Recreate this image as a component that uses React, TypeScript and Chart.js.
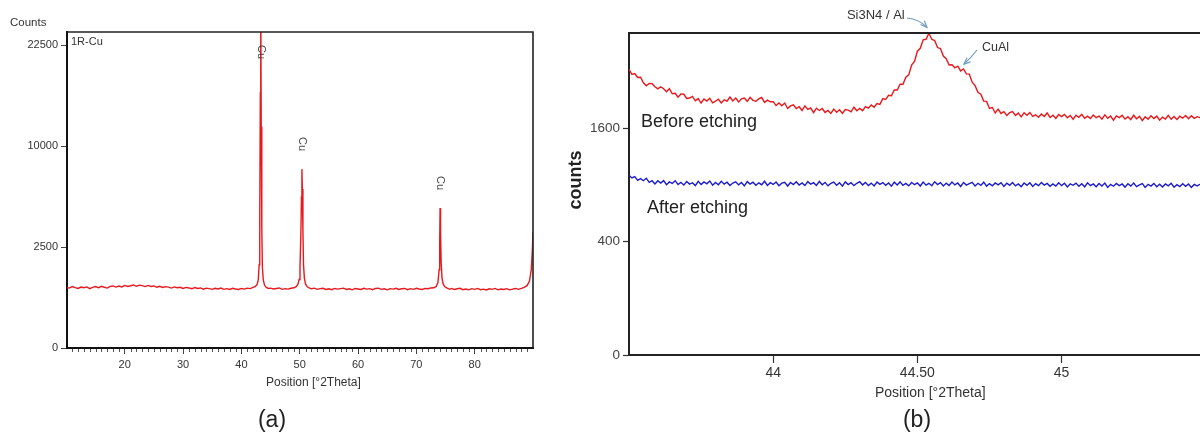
import React, { useEffect, useRef } from 'react';
import { Chart, registerables, LinearScale } from 'chart.js';

Chart.register(...registerables);

// square-root intensity scale (as used by the XRD software)
class SqrtScale extends LinearScale {
  static id = 'sqrt';
  static defaults = LinearScale.defaults;
  getPixelForValue(value: number) {
    const a = Math.sqrt(Math.max(this.min, 0));
    const b = Math.sqrt(Math.max(this.max, 0));
    const v = Math.sqrt(Math.max(value, 0));
    return this.getPixelForDecimal((v - a) / (b - a));
  }
  getValueForPixel(pixel: number) {
    const a = Math.sqrt(Math.max(this.min, 0));
    const b = Math.sqrt(Math.max(this.max, 0));
    const s = a + this.getDecimalForPixel(pixel) * (b - a);
    return s * s;
  }
}
Chart.register(SqrtScale as any);

// ---------- (a) 1R-Cu full scan ----------
const posA = [
  10.0, 10.5, 11.0, 11.5, 12.0, 12.5, 13.0, 13.5, 14.0, 14.5,
  15.0, 15.5, 16.0, 16.5, 17.0, 17.5, 18.0, 18.5, 19.0, 19.5,
  20.0, 20.5, 21.0, 21.5, 22.0, 22.5, 23.0, 23.5, 24.0, 24.5,
  25.0, 25.5, 26.0, 26.5, 27.0, 27.5, 28.0, 28.5, 29.0, 29.5,
  30.0, 30.5, 31.0, 31.5, 32.0, 32.5, 33.0, 33.5, 34.0, 34.5,
  35.0, 35.5, 36.0, 36.5, 37.0, 37.5, 38.0, 38.5, 39.0, 39.5,
  40.0, 40.5, 41.0, 41.5, 42.0,
  42.4, 42.7, 42.9, 43.05, 43.15, 43.25, 43.32, 43.4, 43.5, 43.6, 43.75, 43.95, 44.2, 44.6,
  45.0, 45.5, 46.0, 46.5, 47.0, 47.5, 48.0, 48.5, 49.0,
  49.4, 49.7, 49.9, 50.05, 50.2, 50.3, 50.38, 50.45, 50.55, 50.65, 50.8, 51.0, 51.3, 51.7,
  52.0, 52.5, 53.0, 53.5, 54.0, 54.5, 55.0, 55.5, 56.0, 56.5,
  57.0, 57.5, 58.0, 58.5, 59.0, 59.5, 60.0, 60.5, 61.0, 61.5,
  62.0, 62.5, 63.0, 63.5, 64.0, 64.5, 65.0, 65.5, 66.0, 66.5,
  67.0, 67.5, 68.0, 68.5, 69.0, 69.5, 70.0, 70.5, 71.0, 71.5,
  72.0, 72.5,
  73.0, 73.4, 73.7, 73.9, 74.0, 74.07, 74.15, 74.25, 74.4, 74.6, 74.9, 75.3,
  75.7,
  76.0, 76.5, 77.0, 77.5, 78.0, 78.5, 79.0, 79.5, 80.0, 80.5,
  81.0, 81.5, 82.0, 82.5, 83.0, 83.5, 84.0, 84.5, 85.0, 85.5,
  86.0, 86.5, 87.0, 87.5, 88.0,
  88.5, 89.0, 89.4, 89.7, 89.9, 90.0,
];
const countsA = [
  905, 880, 925, 895, 870, 910, 890, 915, 865, 900,
  925, 890, 935, 905, 880, 930, 945, 910, 940, 915,
  960, 930, 950, 975, 935, 970, 955, 925, 960, 930,
  945, 905, 935, 900, 925, 910, 880, 915, 890, 905,
  870, 900, 885, 860, 895, 870, 885, 850, 880, 865,
  845, 875, 855, 880, 845, 865, 840, 875, 855, 840,
  870, 850, 880, 865, 900,
  930, 990, 1150, 1700, 4000, 16000, 30000, 12000, 3500, 1600, 1150, 980, 910, 870,
  880, 855, 870, 885, 845, 865, 850, 875, 890,
  920, 1000, 1150, 1600, 3200, 5600, 7850, 6200, 3400, 1700, 1200, 1000, 920, 880,
  860, 880, 845, 865, 875, 840, 860, 835, 870, 850,
  865, 880, 840, 860, 830, 870, 855, 840, 875, 850,
  865, 835, 870, 880, 845, 860, 830, 865, 850, 875,
  840, 860, 870, 835, 865, 845, 875, 855, 840, 870,
  860, 885,
  890, 930, 1050, 1500, 2600, 4800, 3300, 1800, 1200, 1000, 920, 880,
  845,
  870, 840, 860, 875, 835, 855, 830, 865, 845, 870,
  835, 850, 825, 860, 845, 870, 830, 855, 840, 865,
  830, 850, 870, 845, 870,
  900, 960, 1100, 1500, 2400, 3300,
];
const xTicksA = [20, 30, 40, 50, 60, 70, 80];
const yTicksA = [0, 2500, 10000, 22500];
const peakPosA = [43.32, 50.38, 74.07];
const peakNamesA = ['Cu', 'Cu', 'Cu'];

// ---------- (b) zoom around 44.5 °2θ, step 0.01 from 43.50 ----------
const startB = 43.5;
const stepB = 0.01;
const beforeB = [
  2540, 2450, 2465, 2395, 2400, 2306, 2255, 2295, 2290, 2238,
  2202, 2238, 2205, 2155, 2205, 2122, 2130, 2067, 2120, 2115,
  2048, 2054, 2080, 2010, 2045, 1975, 2040, 2005, 2050, 1979,
  2003, 2035, 1975, 2025, 2005, 2070, 2008, 2055, 1993, 2042,
  2055, 2002, 2065, 2018, 2002, 2040, 2062, 1985, 2020, 1995,
  1997, 1935, 1975, 1933, 1975, 1890, 1930, 1948, 1890, 1917,
  1860, 1930, 1875, 1898, 1827, 1894, 1860, 1890, 1830, 1860,
  1815, 1881, 1833, 1871, 1815, 1873, 1865, 1840, 1910, 1855,
  1890, 1857, 1920, 1895, 1945, 1910, 1965, 1953, 2045, 2030,
  2098, 2090, 2185, 2185, 2280, 2279, 2400, 2440, 2615, 2680,
  2870, 2925, 3090, 3100, 3220, 3100, 3075, 2940, 2921, 2780,
  2730, 2615, 2620, 2565, 2595, 2510, 2545, 2458, 2455, 2315,
  2257, 2145, 2115, 2005, 2000, 1890, 1905, 1822, 1880, 1815,
  1843, 1785, 1826, 1843, 1785, 1822, 1764, 1826, 1788, 1830,
  1772, 1795, 1758, 1806, 1769, 1822, 1755, 1788, 1741, 1799,
  1767, 1801, 1750, 1785, 1729, 1789, 1758, 1803, 1743, 1773,
  1738, 1792, 1751, 1775, 1729, 1793, 1742, 1776, 1715, 1779,
  1753, 1787, 1731, 1765, 1724, 1788, 1737, 1771, 1710, 1765,
  1729, 1779, 1740, 1775, 1716, 1761, 1732, 1787, 1728, 1768,
  1724, 1774, 1745, 1785, 1736, 1781, 1742, 1767, 1752,
];
const afterB = [
  1005, 975, 990, 948, 968, 945, 972, 927, 945, 910,
  945, 920, 946, 902, 932, 915, 945, 904, 927, 898,
  936, 908, 923, 893, 938, 905, 932, 912, 942, 897,
  926, 901, 938, 908, 928, 893, 920, 933, 900, 925,
  890, 935, 909, 929, 896, 922, 902, 939, 894, 924,
  905, 931, 891, 918, 928, 888, 925, 903, 933, 898,
  921, 893, 935, 907, 924, 894, 937, 902, 927, 890,
  917, 930, 897, 922, 887, 932, 904, 924, 892, 917,
  934, 900, 927, 893, 919, 889, 931, 906, 925, 896,
  921, 886, 929, 900, 932, 895, 915, 890, 925, 902,
  922, 888, 930, 897, 917, 891, 934, 904, 924, 889,
  919, 893, 930, 900, 920, 883, 926, 898, 913, 927,
  889, 917, 895, 929, 887, 914, 891, 921, 901, 924,
  884, 918, 895, 925, 890, 910, 880, 920, 896, 922,
  884, 914, 892, 925, 898, 915, 885, 911, 887, 922,
  892, 917, 879, 911, 896, 919, 885, 912, 880, 922,
  892, 910, 881, 914, 889, 919, 874, 906, 886, 916,
  893, 910, 877, 912, 887, 919, 882, 901, 914, 874,
  906, 888, 916, 881, 907, 877, 910, 890, 917, 875,
  903, 883, 913, 885, 910, 873, 905, 890, 907,
];
const xTicksB = [44, 44.5, 45];
const xTickLabelsB = ['44', '44.50', '45'];
const yTicksB = [0, 400, 1600];
const peakSi3N4B = 44.54;
const peakCuAlB = 44.665;

const FONT = "'Liberation Sans', Arial, Helvetica, sans-serif";
const TEXT = '#333333';
const RED = 'rgb(232, 24, 28)';
const BLUE = 'rgb(28, 28, 205)';

function txt(ctx: CanvasRenderingContext2D, s: string, x: number, y: number, size: number, align: CanvasTextAlign = 'left', weight = 'normal', color = TEXT, rot = 0) {
  ctx.save();
  ctx.font = `${weight} ${size}px ${FONT}`;
  ctx.fillStyle = color;
  ctx.textAlign = align;
  ctx.textBaseline = 'middle';
  ctx.translate(x, y);
  if (rot) ctx.rotate(rot);
  ctx.fillText(s, 0, 0);
  ctx.restore();
}

function arrow(ctx: CanvasRenderingContext2D, x0: number, y0: number, cx: number, cy: number, x1: number, y1: number) {
  ctx.save();
  ctx.strokeStyle = '#6f9bbf';
  ctx.lineWidth = 1.2;
  ctx.beginPath();
  ctx.moveTo(x0, y0);
  ctx.quadraticCurveTo(cx, cy, x1, y1);
  ctx.stroke();
  const ang = Math.atan2(y1 - cy, x1 - cx);
  const L = 7;
  ctx.beginPath();
  ctx.moveTo(x1 - L * Math.cos(ang - 0.4), y1 - L * Math.sin(ang - 0.4));
  ctx.lineTo(x1, y1);
  ctx.lineTo(x1 - L * Math.cos(ang + 0.4), y1 - L * Math.sin(ang + 0.4));
  ctx.stroke();
  ctx.restore();
}

const decoA = {
  id: 'decoA',
  afterDraw(chart: any) {
    const { ctx, chartArea: ca, scales } = chart;
    const xs = scales.x;
    const ys = scales.y;
    ctx.save();
    ctx.strokeStyle = '#222';
    ctx.lineWidth = 1.6;
    ctx.beginPath();
    ctx.moveTo(ca.left, ca.top);
    ctx.lineTo(ca.right, ca.top);
    ctx.lineTo(ca.right, ca.bottom);
    ctx.stroke();
    // minor ticks every 1 °2θ
    ctx.strokeStyle = '#555';
    ctx.lineWidth = 1;
    ctx.beginPath();
    for (let v = Math.ceil(xs.min); v <= Math.floor(xs.max); v++) {
      if (v % 10 === 0) continue;
      const px = Math.round(xs.getPixelForValue(v)) + 0.5;
      ctx.moveTo(px, ca.bottom + 1);
      ctx.lineTo(px, ca.bottom + 4);
    }
    ctx.stroke();
    ctx.restore();
    // peak labels
    peakPosA.forEach((p, i) => {
      const idx = posA.indexOf(p);
      const py = ys.getPixelForValue(countsA[idx]);
      const y = Math.max(ca.top + 20, py - 25);
      txt(ctx, peakNamesA[i], xs.getPixelForValue(p), y, 11, 'center', 'normal', '#444', Math.PI / 2);
    });
    txt(ctx, '1R-Cu', ca.left + 4, ca.top + 10, 11);
    txt(ctx, 'Counts', 10, 23, 11.5);
    txt(ctx, 'Position [°2Theta]', 266, 383, 12);
    txt(ctx, '(a)', 272, 421, 23, 'center', 'normal', '#222');
  },
};

const decoB = {
  id: 'decoB',
  afterDraw(chart: any) {
    const { ctx, chartArea: ca, scales } = chart;
    const xs = scales.x;
    const ys = scales.y;
    ctx.save();
    ctx.strokeStyle = '#222';
    ctx.lineWidth = 2;
    ctx.beginPath();
    ctx.moveTo(ca.left, ca.top);
    ctx.lineTo(ca.right, ca.top);
    ctx.stroke();
    ctx.restore();
    txt(ctx, 'counts', 16, 180, 18, 'center', 'bold', '#222', -Math.PI / 2);
    txt(ctx, 'Before etching', ca.left + 12, 122, 18, 'left', 'normal', '#222');
    txt(ctx, 'After etching', ca.left + 18, 208, 18, 'left', 'normal', '#222');
    txt(ctx, 'Position [°2Theta]', 315, 393, 14);
    txt(ctx, '(b)', 357, 421, 23, 'center', 'normal', '#222');
    const sx = xs.getPixelForValue(peakSi3N4B);
    const sy = ys.getPixelForValue(3300);
    txt(ctx, 'Si3N4 / Al', sx - 82, 15, 13);
    arrow(ctx, sx - 22, 18, sx - 10, 19, sx - 2, sy - 2);
    const cx = xs.getPixelForValue(peakCuAlB);
    const cy = ys.getPixelForValue(2560);
    txt(ctx, 'CuAl', cx + 17, 48, 12.5);
    arrow(ctx, cx + 12, 50, cx + 6, 58, cx - 1, cy - 4);
  },
};

function ChartA() {
  const ref = useRef<HTMLCanvasElement>(null);
  useEffect(() => {
    const data = posA.map((x, i) => ({ x, y: countsA[i] }));
    const chart = new Chart(ref.current!, {
      type: 'line',
      data: { datasets: [{ data, borderColor: RED, borderWidth: 1.4, pointRadius: 0, tension: 0 }] },
      options: {
        animation: false,
        responsive: false,
        layout: { padding: { top: 32, right: 27, left: 0, bottom: 0 } },
        plugins: { legend: { display: false }, tooltip: { enabled: false } },
        scales: {
          x: {
            type: 'linear',
            min: 10.1,
            max: 90,
            afterBuildTicks: (s: any) => { s.ticks = xTicksA.map((v) => ({ value: v })); },
            afterFit: (s: any) => { s.height = 89; },
            ticks: { font: { size: 11, family: FONT }, color: TEXT, padding: 4, maxRotation: 0, autoSkip: false, callback: (v: any) => String(v) },
            grid: { drawOnChartArea: false, drawTicks: true, tickLength: 6, tickColor: '#444', tickWidth: 1 },
            border: { color: '#111', width: 2 },
          },
          y: {
            type: 'sqrt' as any,
            min: 0,
            max: 24500,
            afterBuildTicks: (s: any) => { s.ticks = yTicksA.map((v) => ({ value: v })); },
            afterFit: (s: any) => { s.width = 67; },
            ticks: { font: { size: 11, family: FONT }, color: TEXT, padding: 3, autoSkip: false, callback: (v: any) => String(v) },
            grid: { drawOnChartArea: false, drawTicks: true, tickLength: 6, tickColor: '#444', tickWidth: 1 },
            border: { color: '#111', width: 2 },
          },
        },
      } as any,
      plugins: [decoA],
    });
    return () => chart.destroy();
  }, []);
  return <canvas ref={ref} width={560} height={437} style={{ position: 'absolute', left: 0, top: 0, width: 560, height: 437 }} />;
}

function ChartB() {
  const ref = useRef<HTMLCanvasElement>(null);
  useEffect(() => {
    const mk = (arr: number[]) => arr.map((y, i) => ({ x: startB + i * stepB, y }));
    const chart = new Chart(ref.current!, {
      type: 'line',
      data: {
        datasets: [
          { data: mk(beforeB), borderColor: RED, borderWidth: 1.4, pointRadius: 0, tension: 0 },
          { data: mk(afterB), borderColor: BLUE, borderWidth: 1.4, pointRadius: 0, tension: 0 },
        ],
      },
      options: {
        animation: false,
        responsive: false,
        layout: { padding: { top: 33, right: 0, left: 0, bottom: 0 } },
        plugins: { legend: { display: false }, tooltip: { enabled: false } },
        scales: {
          x: {
            type: 'linear',
            min: 43.5,
            max: 45.48,
            afterBuildTicks: (s: any) => { s.ticks = xTicksB.map((v) => ({ value: v })); },
            afterFit: (s: any) => { s.height = 82; },
            ticks: { font: { size: 14, family: FONT }, color: TEXT, padding: 2, maxRotation: 0, autoSkip: false, callback: (_v: any, i: number) => xTickLabelsB[i] },
            grid: { drawOnChartArea: false, drawTicks: true, tickLength: 8, tickColor: '#333', tickWidth: 1.2 },
            border: { color: '#222', width: 2 },
          },
          y: {
            type: 'sqrt' as any,
            min: 0,
            max: 3225,
            afterBuildTicks: (s: any) => { s.ticks = yTicksB.map((v) => ({ value: v })); },
            afterFit: (s: any) => { s.width = 69; },
            ticks: { font: { size: 13.5, family: FONT }, color: '#444', padding: 3, autoSkip: false, callback: (v: any) => String(v) },
            grid: { drawOnChartArea: false, drawTicks: true, tickLength: 6, tickColor: '#333', tickWidth: 1.2 },
            border: { color: '#222', width: 2 },
          },
        },
      } as any,
      plugins: [decoB],
    });
    return () => chart.destroy();
  }, []);
  return <canvas ref={ref} width={640} height={437} style={{ position: 'absolute', left: 560, top: 0, width: 640, height: 437 }} />;
}

export default function App() {
  return (
    <div style={{ position: 'absolute', left: 0, top: 0, width: 1200, height: 437, overflow: 'hidden', background: '#fff' }}>
      <ChartA />
      <ChartB />
    </div>
  );
}
